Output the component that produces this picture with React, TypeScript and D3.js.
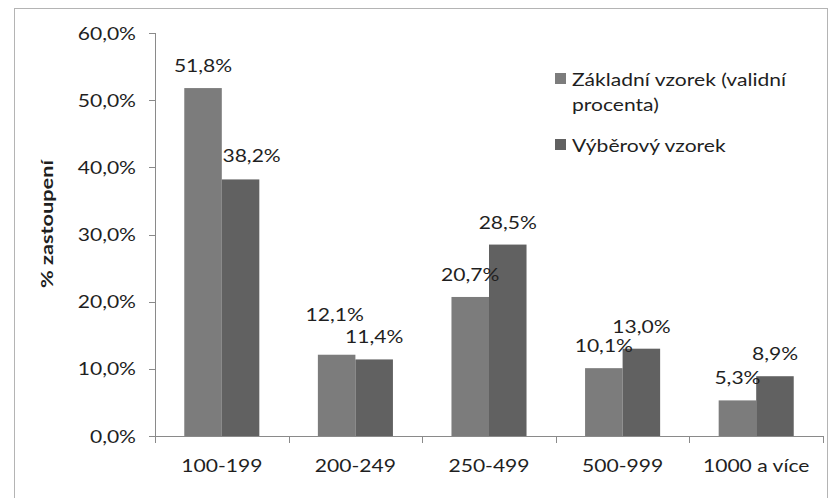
import React from "react";
import * as d3 from "d3";

// Size classes (number of employees) and the share of each sample
const categories = ["100-199", "200-249", "250-499", "500-999", "1000 a více"];
const seriesNames = ["Základní vzorek (validní procenta)", "Výběrový vzorek"];
const zakladniVzorek = [51.8, 12.1, 20.7, 10.1, 5.3];
const vyberovyVzorek = [38.2, 11.4, 28.5, 13.0, 8.9];
const yTicks = [0, 10, 20, 30, 40, 50, 60];

// Manual nudges of individual value labels (series index, category index, dx, dy)
const labelNudges: [number, number, number, number][] = [
  [1, 0, 11, -1],
  [0, 1, -2, -18],
];

const W = 831;
const H = 498;
const FONT = "Lato, 'Open Sans', sans-serif";
const SX = 1.24; // horizontal stretch of the lettering
const TEXT = "#1f1f1f";
const AXIS = "#8a8a8a";
const COLORS = ["#7c7c7c", "#616161"];

const fmt = (v: number) => v.toFixed(1).replace(".", ",") + "%";

function T({
  x,
  y,
  anchor = "start",
  size = 17,
  weight = 400,
  rotate = 0,
  children,
}: {
  x: number;
  y: number;
  anchor?: string;
  size?: number;
  weight?: number;
  rotate?: number;
  children: React.ReactNode;
}) {
  return (
    <text
      transform={`translate(${x},${y}) rotate(${rotate}) scale(${SX},1)`}
      textAnchor={anchor}
      fontFamily={FONT}
      fontSize={size}
      fontWeight={weight}
      fill={TEXT}
    >
      {children}
    </text>
  );
}

export default function App() {
  const plot = { left: 155, right: 823, top: 33, bottom: 436 };
  const y = d3.scaleLinear().domain([0, 60]).range([plot.bottom, plot.top]);
  const x0 = d3.scaleBand<string>().domain(categories).range([plot.left, plot.right]).padding(0);
  const x1 = d3
    .scaleBand<number>()
    .domain([0, 1])
    .range([0, x0.bandwidth()])
    .paddingInner(0)
    .paddingOuter(0.78);
  const series = [zakladniVzorek, vyberovyVzorek];
  const nudge = (s: number, c: number) => {
    const n = labelNudges.find((d) => d[0] === s && d[1] === c);
    return n ? [n[2], n[3]] : [0, 0];
  };
  const boundaries = categories.map((c) => x0(c) as number).concat([plot.right]);

  return (
    <svg
      width={W}
      height={H}
      style={{ position: "absolute", left: 0, top: 0, background: "#fff" }}
    >
      <rect x={0} y={0} width={W} height={H} fill="#fff" />
      <rect x={14.5} y={8.5} width={813} height={500} fill="none" stroke="#b4b4b4" />

      {/* bars */}
      {series.map((vals, s) =>
        vals.map((v, c) => (
          <rect
            key={`b${s}-${c}`}
            x={(x0(categories[c]) as number) + (x1(s) as number)}
            y={y(v)}
            width={x1.bandwidth()}
            height={y(0) - y(v)}
            fill={COLORS[s]}
          />
        ))
      )}

      {/* y axis */}
      <line x1={plot.left + 0.5} x2={plot.left + 0.5} y1={plot.top} y2={plot.bottom} stroke={AXIS} />
      {yTicks.map((t) => (
        <g key={`yt${t}`}>
          <line x1={plot.left - 6} x2={plot.left} y1={Math.round(y(t)) + 0.5} y2={Math.round(y(t)) + 0.5} stroke={AXIS} />
          <T x={136} y={y(t) + 6.5} anchor="end">
            {fmt(t)}
          </T>
        </g>
      ))}

      {/* x axis */}
      <line x1={plot.left} x2={plot.right} y1={plot.bottom + 0.5} y2={plot.bottom + 0.5} stroke={AXIS} />
      {boundaries.map((b, i) => (
        <line key={`xt${i}`} x1={Math.round(b) + 0.5} x2={Math.round(b) + 0.5} y1={plot.bottom} y2={plot.bottom + 7} stroke={AXIS} />
      ))}
      {categories.map((c) => (
        <T key={`xl${c}`} x={(x0(c) as number) + x0.bandwidth() / 2} y={472} anchor="middle">
          {c}
        </T>
      ))}

      {/* value labels */}
      {series.map((vals, s) =>
        vals.map((v, c) => {
          const [dx, dy] = nudge(s, c);
          return (
            <T
              key={`l${s}-${c}`}
              x={(x0(categories[c]) as number) + (x1(s) as number) + x1.bandwidth() / 2 + dx}
              y={y(v) - 16 + dy}
              anchor="middle"
            >
              {fmt(v)}
            </T>
          );
        })
      )}

      {/* y axis title */}
      <T x={53} y={224} anchor="middle" rotate={-90} weight={700} size={17.5}>
        % zastoupení
      </T>

      {/* legend */}
      <rect x={555} y={73} width={11} height={11} fill={COLORS[0]} />
      <T x={572} y={86}>Základní vzorek (validní</T>
      <T x={572} y={111}>procenta)</T>
      <rect x={555} y={139} width={11} height={11} fill={COLORS[1]} />
      <T x={572} y={152}>Výběrový vzorek</T>
      <title>{seriesNames.join(" / ")}</title>
    </svg>
  );
}
